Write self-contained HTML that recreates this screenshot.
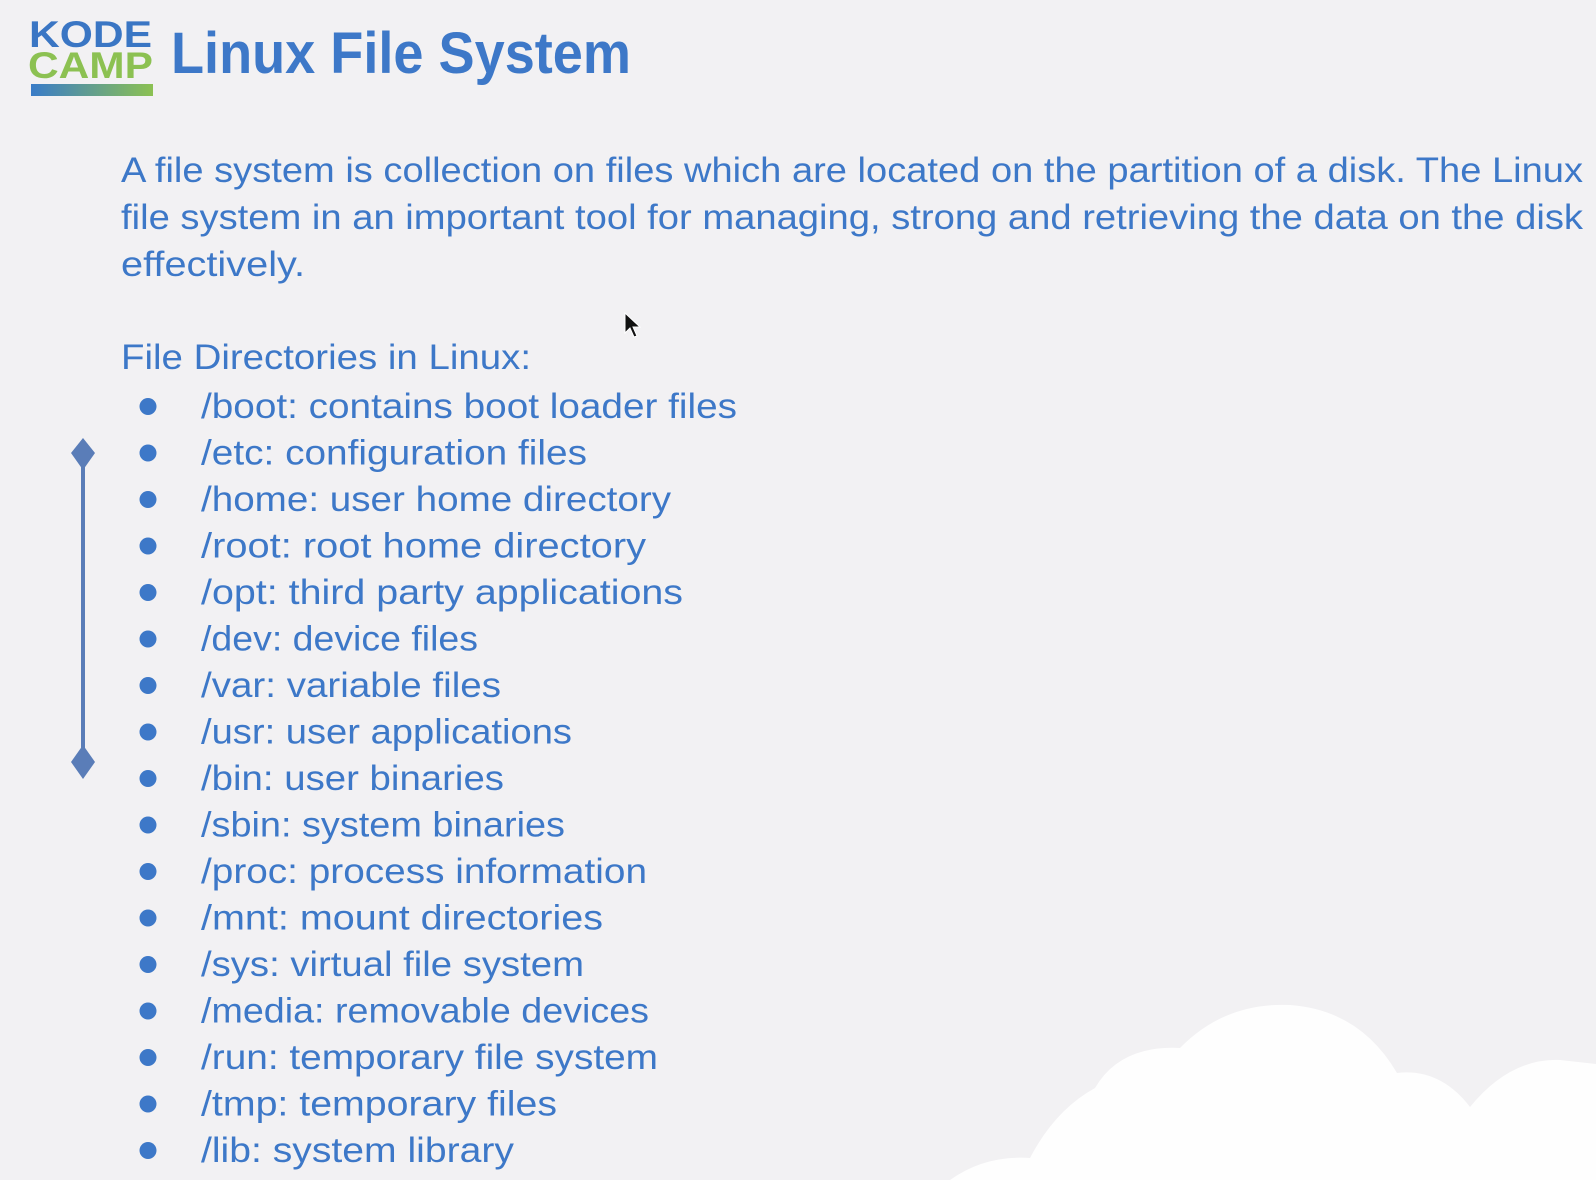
<!DOCTYPE html>
<html><head><meta charset="utf-8"><style>
html,body{margin:0;padding:0;background:#f2f1f3;width:1596px;height:1180px;overflow:hidden;}
svg{display:block;}
text{font-family:"Liberation Sans",sans-serif;fill:#3d78c8;}
</style></head><body>
<svg width="1596" height="1180" viewBox="0 0 1596 1180" xmlns="http://www.w3.org/2000/svg">
<rect width="1596" height="1180" fill="#f2f1f3"/>
<!-- cloud -->
<path fill="#fefefe" d="M950,1180 Q985,1155 1030,1158 Q1055,1110 1095,1088 Q1120,1045 1180,1048 Q1225,1002 1290,1005 Q1360,1010 1397,1073 Q1440,1068 1470,1107 Q1510,1058 1560,1060 L1596,1064 L1596,1180 Z"/>
<!-- logo -->
<text x="29" y="47" font-size="37" font-weight="bold" textLength="123" lengthAdjust="spacingAndGlyphs" style="fill:#3a76c4">KODE</text>
<text x="28" y="78" font-size="37" font-weight="bold" textLength="125" lengthAdjust="spacingAndGlyphs" style="fill:#8cc152">CAMP</text>
<defs><linearGradient id="g" x1="0" x2="1"><stop offset="0" stop-color="#3a7cc8"/><stop offset="1" stop-color="#8cc152"/></linearGradient></defs>
<rect x="31" y="84" width="122" height="12" fill="url(#g)"/>
<!-- title -->
<text x="171" y="73" font-size="58" font-weight="bold" textLength="460" lengthAdjust="spacingAndGlyphs">Linux File System</text>
<!-- paragraph -->
<g font-size="35">
<text x="121" y="182" textLength="1462" lengthAdjust="spacingAndGlyphs">A file system is  collection on files which are located on the partition of a disk. The Linux</text>
<text x="121" y="229" textLength="1462" lengthAdjust="spacingAndGlyphs">file system in an important tool for managing, strong and retrieving the data on the disk</text>
<text x="121" y="276" textLength="184" lengthAdjust="spacingAndGlyphs">effectively.</text>
<text x="121" y="369" textLength="410" lengthAdjust="spacingAndGlyphs">File Directories in Linux:</text>
</g>
<!-- vertical connector -->
<g fill="#5a7db8" stroke="none">
<rect x="81" y="453" width="4" height="309"/>
<polygon points="83,438 95,453 83,470 71,453"/>
<polygon points="83,745 95,762 83,779 71,762"/>
</g>
<!-- list -->
<g font-size="35">
<g fill="#3d78c8">
<circle cx="148" cy="406.5" r="8.5"/><circle cx="148" cy="453" r="8.5"/><circle cx="148" cy="499.5" r="8.5"/><circle cx="148" cy="546" r="8.5"/><circle cx="148" cy="592.5" r="8.5"/><circle cx="148" cy="639" r="8.5"/><circle cx="148" cy="685.5" r="8.5"/><circle cx="148" cy="732" r="8.5"/><circle cx="148" cy="778.5" r="8.5"/><circle cx="148" cy="825" r="8.5"/><circle cx="148" cy="871.5" r="8.5"/><circle cx="148" cy="918" r="8.5"/><circle cx="148" cy="964.5" r="8.5"/><circle cx="148" cy="1011" r="8.5"/><circle cx="148" cy="1057.5" r="8.5"/><circle cx="148" cy="1104" r="8.5"/><circle cx="148" cy="1150.5" r="8.5"/>
</g>
<text x="201" y="418" textLength="536" lengthAdjust="spacingAndGlyphs">/boot: contains boot loader files</text>
<text x="201" y="464.5" textLength="386" lengthAdjust="spacingAndGlyphs">/etc: configuration files</text>
<text x="201" y="511" textLength="470" lengthAdjust="spacingAndGlyphs">/home: user home directory</text>
<text x="201" y="557.5" textLength="445" lengthAdjust="spacingAndGlyphs">/root: root home directory</text>
<text x="201" y="604" textLength="482" lengthAdjust="spacingAndGlyphs">/opt: third party applications</text>
<text x="201" y="650.5" textLength="277" lengthAdjust="spacingAndGlyphs">/dev: device files</text>
<text x="201" y="697" textLength="300" lengthAdjust="spacingAndGlyphs">/var: variable files</text>
<text x="201" y="743.5" textLength="371" lengthAdjust="spacingAndGlyphs">/usr: user applications</text>
<text x="201" y="790" textLength="303" lengthAdjust="spacingAndGlyphs">/bin: user binaries</text>
<text x="201" y="836.5" textLength="364" lengthAdjust="spacingAndGlyphs">/sbin: system binaries</text>
<text x="201" y="883" textLength="446" lengthAdjust="spacingAndGlyphs">/proc: process information</text>
<text x="201" y="929.5" textLength="402" lengthAdjust="spacingAndGlyphs">/mnt: mount directories</text>
<text x="201" y="976" textLength="383" lengthAdjust="spacingAndGlyphs">/sys: virtual file system</text>
<text x="201" y="1022.5" textLength="448" lengthAdjust="spacingAndGlyphs">/media: removable devices</text>
<text x="201" y="1069" textLength="457" lengthAdjust="spacingAndGlyphs">/run: temporary file system</text>
<text x="201" y="1115.5" textLength="356" lengthAdjust="spacingAndGlyphs">/tmp: temporary files</text>
<text x="201" y="1162" textLength="313" lengthAdjust="spacingAndGlyphs">/lib: system library</text>
</g>
<!-- cursor -->
<polygon points="625,313 625,333 630,328 634,337 637,336 633,327 640,327" fill="#111" stroke="#fff" stroke-width="1"/>
</svg>
</body></html>
